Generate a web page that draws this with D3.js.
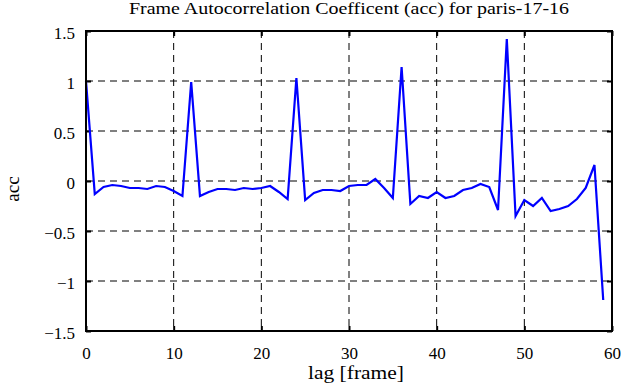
<!DOCTYPE html>
<html>
<head>
<meta charset="utf-8">
<script src="https://cdn.jsdelivr.net/npm/d3@7"></script>
<style>
  body { margin: 0; background: #fff; }
  svg { display: block; font-family: "Liberation Serif", "DejaVu Serif", serif; }
</style>
</head>
<body>
<script>
// lag values 0..59
var lags = d3.range(0, 60);
var acc = [
   1.00, -0.13, -0.06, -0.04, -0.05, -0.07, -0.07, -0.08, -0.05, -0.06,
  -0.10, -0.15,  0.99, -0.15, -0.11, -0.08, -0.08, -0.09, -0.07, -0.08,
  -0.07, -0.05, -0.11, -0.18,  1.03, -0.19, -0.12, -0.09, -0.09, -0.10,
  -0.05, -0.04, -0.04,  0.02, -0.07, -0.17,  1.14, -0.23, -0.15, -0.17,
  -0.11, -0.17, -0.15, -0.09, -0.07, -0.03, -0.06, -0.29,  1.42, -0.35,
  -0.19, -0.25, -0.17, -0.30, -0.28, -0.25, -0.18, -0.07,  0.16, -1.19
];
var xTicks = [0, 10, 20, 30, 40, 50, 60];
var yTicks = [-1.5, -1, -0.5, 0, 0.5, 1, 1.5];
var xGrid = [10, 20, 30, 40, 50];
var yGrid = [-1, -0.5, 0, 0.5, 1];

var width = 630, height = 387;
var margin = {left: 86, right: 612, top: 31, bottom: 331};

var x = d3.scaleLinear().domain([0, 60]).range([margin.left, margin.right]);
var y = d3.scaleLinear().domain([-1.5, 1.5]).range([margin.bottom, margin.top]);

var svg = d3.select('body').append('svg')
  .attr('width', width)
  .attr('height', height);

// grid
svg.append('g').selectAll('line')
  .data(xGrid)
  .enter().append('line')
    .attr('x1', function(d) { return x(d); })
    .attr('x2', function(d) { return x(d); })
    .attr('y1', margin.top)
    .attr('y2', margin.bottom)
    .attr('stroke', '#000')
    .attr('stroke-width', 1)
    .attr('stroke-dasharray', '7,5');

svg.append('g').selectAll('line')
  .data(yGrid)
  .enter().append('line')
    .attr('x1', margin.left)
    .attr('x2', margin.right)
    .attr('y1', function(d) { return y(d); })
    .attr('y2', function(d) { return y(d); })
    .attr('stroke', '#000')
    .attr('stroke-width', 1)
    .attr('stroke-dasharray', '7,5');

// axes (ticks pointing inward on all four sides)
var xAxis = d3.axisBottom(x).tickValues(xTicks).tickSizeInner(-5).tickSizeOuter(0);
var xAxisTop = d3.axisTop(x).tickValues(xTicks).tickSizeInner(-5).tickSizeOuter(0).tickFormat('');
var yAxis = d3.axisLeft(y).tickValues(yTicks).tickSizeInner(-5).tickSizeOuter(0).tickFormat(d3.format('~g'));
var yAxisRight = d3.axisRight(y).tickValues(yTicks).tickSizeInner(-5).tickSizeOuter(0).tickFormat('');

function styleAxis(g) {
  g.select('.domain').remove();
  g.selectAll('.tick line').attr('stroke', '#000').attr('stroke-width', 2);
  g.selectAll('text').attr('fill', '#000').style('font-size', '17px')
    .style('font-family', '"Liberation Serif", serif');
}

svg.append('g').attr('transform', 'translate(0,' + margin.bottom + ')').call(xAxis).call(styleAxis)
  .selectAll('text').attr('y', 28).attr('dy', 0);
svg.append('g').attr('transform', 'translate(0,' + margin.top + ')').call(xAxisTop).call(styleAxis);
svg.append('g').attr('transform', 'translate(' + margin.left + ',0)').call(yAxis).call(styleAxis)
  .selectAll('text').attr('x', -11).attr('dy', '0.32em').attr('transform', 'translate(0,2)');
svg.append('g').attr('transform', 'translate(' + margin.right + ',0)').call(yAxisRight).call(styleAxis);

// data line
var line = d3.line()
  .x(function(d, i) { return x(lags[i]); })
  .y(function(d) { return y(d); });

svg.append('path')
  .datum(acc)
  .attr('d', line)
  .attr('fill', 'none')
  .attr('stroke', '#0000ff')
  .attr('stroke-width', 2.2)
  .attr('stroke-linejoin', 'miter');

// frame
svg.append('rect')
  .attr('x', margin.left)
  .attr('y', margin.top)
  .attr('width', margin.right - margin.left)
  .attr('height', margin.bottom - margin.top)
  .attr('fill', 'none')
  .attr('stroke', '#000')
  .attr('stroke-width', 2);

// titles (stretched a bit to the width of the original bitmap font)
svg.append('text')
  .attr('x', (margin.left + margin.right) / 2)
  .attr('y', 14)
  .attr('text-anchor', 'middle')
  .attr('textLength', 440)
  .attr('lengthAdjust', 'spacingAndGlyphs')
  .style('font-size', '17px')
  .text('Frame Autocorrelation Coefficent (acc) for paris-17-16');

svg.append('text')
  .attr('x', (margin.left + margin.right) / 2 + 7)
  .attr('y', 379)
  .attr('text-anchor', 'middle')
  .attr('textLength', 96)
  .attr('lengthAdjust', 'spacingAndGlyphs')
  .style('font-size', '18px')
  .text('lag [frame]');

svg.append('text')
  .attr('transform', 'translate(19,189)rotate(-90)')
  .attr('text-anchor', 'middle')
  .style('font-size', '19px')
  .text('acc');
</script>
</body>
</html>
